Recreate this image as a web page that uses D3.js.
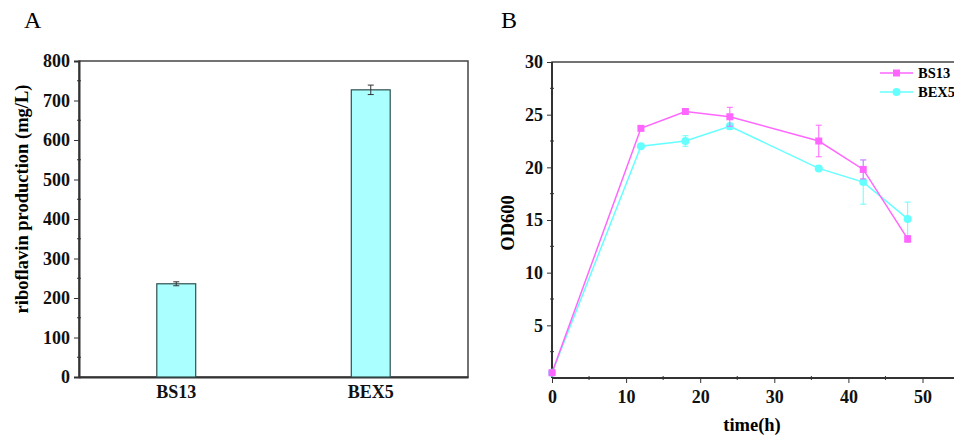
<!DOCTYPE html>
<html>
<head>
<meta charset="utf-8">
<script src="https://cdn.jsdelivr.net/npm/d3@7"></script>
<style>
  body { margin: 0; background: #fff; }
  svg { display: block; font-family: "Liberation Serif", "Times New Roman", serif; }
  .axis text { font-family: "Liberation Serif", "Times New Roman", serif; font-weight: 700; font-size: 18px; fill: #111; }
  .axis path, .axis line { stroke: #333; }
</style>
</head>
<body>
<svg id="chart" width="954" height="439"></svg>
<script>
// ---- panel A: riboflavin production ----
const strains = ["BS13", "BEX5"];
const riboflavin = [236, 727];
const riboflavinErr = [5, 12];
const riboTicks = [0, 100, 200, 300, 400, 500, 600, 700, 800];

// ---- panel B: growth curves (OD600) ----
const hours = [0, 12, 18, 24, 36, 42, 48];
const odBS13 = [0.5, 23.7, 25.3, 24.8, 22.5, 19.8, 13.2];
const odBS13Err = [0.1, 0.2, 0.2, 0.9, 1.5, 0.9, 0.3];
const odBEX5 = [0.5, 22.0, 22.5, 23.9, 19.9, 18.6, 15.1];
const odBEX5Err = [0.1, 0.2, 0.5, 0.3, 0.2, 2.1, 1.6];
const timeTicks = [0, 10, 20, 30, 40, 50];
const odTicks = [5, 10, 15, 20, 25, 30];

const PINK = "#ff66ff", CYAN = "#66ffff";
const svg = d3.select("#chart");

// ================= A =================
const A = { l: 79, r: 468, t: 61, b: 377 };
const ax = d3.scaleBand().domain(strains).range([A.l, A.r]).paddingInner(0.8).paddingOuter(0.4);
const ay = d3.scaleLinear().domain([0, 800]).range([A.b, A.t]);

svg.append("text").attr("x", 24).attr("y", 28).style("font-size", "24px").text("A");

// frame
svg.append("rect").attr("x", A.l).attr("y", A.t).attr("width", A.r - A.l).attr("height", A.b - A.t)
  .attr("fill", "none").attr("stroke", "#444").attr("stroke-width", 1.5);

svg.append("g").attr("class", "axis").attr("transform", `translate(${A.l},0)`)
  .call(d3.axisLeft(ay).tickValues(riboTicks).tickSize(5).tickPadding(4))
  .attr("font-family", null).attr("font-size", null)
  .call(g => g.select(".domain").attr("stroke-width", 2));
// minor ticks
svg.append("g").selectAll("line").data(d3.range(50, 800, 100)).join("line")
  .attr("x1", A.l - 2).attr("x2", A.l + 2).attr("y1", d => ay(d)).attr("y2", d => ay(d))
  .attr("stroke", "#333");
svg.append("g").attr("class", "axis").attr("transform", `translate(0,${A.b})`)
  .call(d3.axisBottom(ax).tickSize(0).tickPadding(8))
  .attr("font-family", null).attr("font-size", null)
  .call(g => g.select(".domain").attr("stroke-width", 2));

svg.append("g").selectAll("rect").data(strains).join("rect")
  .attr("x", d => ax(d)).attr("width", ax.bandwidth())
  .attr("y", (d, i) => ay(riboflavin[i])).attr("height", (d, i) => ay(0) - ay(riboflavin[i]))
  .attr("fill", "#aaffff").attr("stroke", "#2f4f4f").attr("stroke-width", 1.2);

const errA = svg.append("g").attr("stroke", "#333").attr("stroke-width", 1);
strains.forEach((s, i) => {
  const cx = ax(s) + ax.bandwidth() / 2;
  const y0 = ay(riboflavin[i] - riboflavinErr[i]), y1 = ay(riboflavin[i] + riboflavinErr[i]);
  errA.append("line").attr("x1", cx).attr("x2", cx).attr("y1", y0).attr("y2", y1);
  errA.append("line").attr("x1", cx - 3).attr("x2", cx + 3).attr("y1", y0).attr("y2", y0);
  errA.append("line").attr("x1", cx - 3).attr("x2", cx + 3).attr("y1", y1).attr("y2", y1);
});

svg.append("text").attr("transform", `translate(28,${(A.t + A.b) / 2 - 20}) rotate(-90)`)
  .attr("text-anchor", "middle").style("font-weight", 700).style("font-size", "18.5px")
  .text("riboflavin production (mg/L)");

// ================= B =================
const B = { l: 552, t: 62, b: 378 };
const bx = d3.scaleLinear().domain([0, 50]).range([B.l, 922.5]);
const by = d3.scaleLinear().domain([0, 30]).range([B.b, B.t]);
const Bright = bx(55);

svg.append("text").attr("x", 501).attr("y", 28).style("font-size", "24px").text("B");

svg.append("path").attr("d", `M${B.l},${B.b}V${B.t}H${Bright}V${B.b}`)
  .attr("fill", "none").attr("stroke", "#444").attr("stroke-width", 1.5);

svg.append("g").attr("class", "axis").attr("transform", `translate(${B.l},0)`)
  .call(d3.axisLeft(by).tickValues(odTicks).tickSize(5).tickPadding(4))
  .attr("font-family", null).attr("font-size", null)
  .call(g => g.select(".domain").attr("d", `M0,${B.b}V${B.t}`).attr("stroke-width", 2));
svg.append("g").selectAll("line").data(d3.range(2.5, 30, 5)).join("line")
  .attr("x1", B.l - 2).attr("x2", B.l + 2).attr("y1", d => by(d)).attr("y2", d => by(d))
  .attr("stroke", "#333");
svg.append("g").attr("class", "axis").attr("transform", `translate(0,${B.b})`)
  .call(d3.axisBottom(bx).tickValues(timeTicks).tickSize(5).tickPadding(7))
  .attr("font-family", null).attr("font-size", null)
  .call(g => g.select(".domain").attr("d", `M${B.l},0H${Bright}`).attr("stroke-width", 2));
svg.append("g").selectAll("line").data(d3.range(5, 55, 10)).join("line")
  .attr("x1", d => bx(d)).attr("x2", d => bx(d)).attr("y1", B.b - 2).attr("y2", B.b + 2)
  .attr("stroke", "#333");

const series = [
  { name: "BS13", y: odBS13, e: odBS13Err, color: PINK, shape: "square" },
  { name: "BEX5", y: odBEX5, e: odBEX5Err, color: CYAN, shape: "circle" },
];
const line = d3.line().x(d => bx(d[0])).y(d => by(d[1]));
series.slice().reverse().forEach(s => {
  const g = svg.append("g");
  const pts = hours.map((h, i) => [h, s.y[i], s.e[i]]);
  g.append("path").attr("d", line(pts)).attr("fill", "none")
    .attr("stroke", s.color).attr("stroke-width", 1.5);
  pts.forEach(p => {
    const x = bx(p[0]), y0 = by(p[1] - p[2]), y1 = by(p[1] + p[2]);
    g.append("path").attr("d", `M${x},${y0}V${y1}M${x - 3},${y0}h6M${x - 3},${y1}h6`)
      .attr("stroke", s.color).attr("stroke-width", 1).attr("fill", "none");
  });
  if (s.shape === "square") {
    g.selectAll("rect").data(pts).join("rect")
      .attr("x", d => bx(d[0]) - 3.5).attr("y", d => by(d[1]) - 3.5)
      .attr("width", 7).attr("height", 7).attr("fill", s.color);
  } else {
    g.selectAll("circle").data(pts).join("circle")
      .attr("cx", d => bx(d[0])).attr("cy", d => by(d[1])).attr("r", 4).attr("fill", s.color);
  }
});

// legend
series.forEach((s, i) => {
  const y = 73 + i * 19;
  const g = svg.append("g");
  g.append("line").attr("x1", 880).attr("x2", 913).attr("y1", y).attr("y2", y)
    .attr("stroke", s.color).attr("stroke-width", 1.5);
  if (s.shape === "square") g.append("rect").attr("x", 893).attr("y", y - 3.5).attr("width", 7).attr("height", 7).attr("fill", s.color);
  else g.append("circle").attr("cx", 896.5).attr("cy", y).attr("r", 4).attr("fill", s.color);
  g.append("text").attr("x", 918).attr("y", y + 5).style("font-weight", 700).style("font-size", "14.5px").text(s.name);
});

svg.append("text").attr("transform", `translate(514,${(B.t + B.b) / 2 + 3}) rotate(-90)`)
  .attr("text-anchor", "middle").style("font-weight", 700).style("font-size", "18.5px").text("OD600");
svg.append("text").attr("x", 752).attr("y", 431).attr("text-anchor", "middle")
  .style("font-weight", 700).style("font-size", "18.5px").text("time(h)");
</script>
</body>
</html>
